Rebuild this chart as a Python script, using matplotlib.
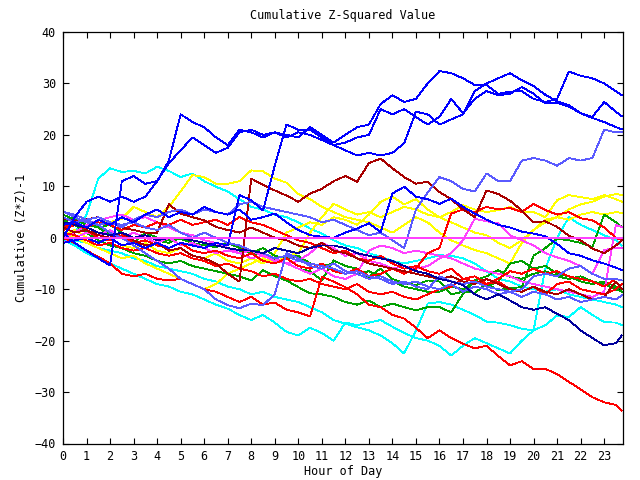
import matplotlib
matplotlib.use('Agg')
import matplotlib.pyplot as plt

plt.rcParams['font.family'] = ['DejaVu Sans Mono']

title = 'Cumulative Z-Squared Value'
xlabel = 'Hour of Day'
ylabel = 'Cumulative (Z*Z)-1'

hours = [0.0, 0.5, 1.0, 1.5, 2.0, 2.5, 3.0, 3.5, 4.0, 4.5,
         5.0, 5.5, 6.0, 6.5, 7.0, 7.5, 8.0, 8.5, 9.0, 9.5,
         10.0, 10.5, 11.0, 11.5, 12.0, 12.5, 13.0, 13.5, 14.0, 14.5,
         15.0, 15.5, 16.0, 16.5, 17.0, 17.5, 18.0, 18.5, 19.0, 19.5,
         20.0, 20.5, 21.0, 21.5, 22.0, 22.5, 23.0, 23.5, 23.75]

x_ticks = list(range(0, 24))
y_ticks = [-40, -30, -20, -10, 0, 10, 20, 30, 40]

# ---- series values (one per half hour) ----
blue_1 = [0, 4, 7, 8, 7, 8, 7, 8, 11, 15,
          24, 22.5, 21.5, 19.5, 18, 21, 20.5, 19.5, 20.5, 20,
          19.5, 21.5, 20, 18.5, 20, 21.5, 22, 26, 27.7, 26.4,
          27, 30, 32.4, 32, 31, 29.7, 29.7, 28, 28.4, 28.5,
          27, 26.4, 27, 32.3, 31.5, 31, 30, 28.5, 27.7]
blue_2 = [1, -1, -2.5, -4, -5.4, 11, 12, 10.5, 11, 14.5,
          17, 19.5, 18, 16.5, 17.5, 20.5, 21, 20, 20.5, 19.5,
          20.5, 20, 19, 18, 18.5, 19.5, 20, 25, 24, 25,
          23.5, 22, 23.5, 27, 24.2, 27, 28.5, 27.7, 28, 29.3,
          28, 26.1, 26.2, 25.5, 24.2, 23.5, 26.4, 24.5, 23.6]
blue_3 = [-1, -0.5, 0, -1, 0, -1.5, -1, -2, -1, -2,
          -1, -1.5, -2, -1, -1.5, 8.3, 7.3, 5.3, 14, 22,
          21, 21, 19.5, 18, 17, 16, 16.5, 16, 16.5, 18.4,
          24.5, 24, 22, 23, 24, 28.5, 30, 31, 32, 30.6,
          29.5, 27.8, 26.5, 25.8, 24.2, 23.3, 22.5, 21.5, 21.1]
blue_4 = [2.5, 3, 2, 3.5, 2.5, 4, 3, 4.5, 5.5, 4,
          5, 4.5, 6, 5, 4.5, 5.5, 3.5, 4, 4.7, 3,
          1.5, 0.5, 0.2, 0, 1, 1.8, 2.8, 1.1, 8.6, 9.9,
          8, 7.5, 6.6, 7.6, 6, 4.7, 3.5, 2.5, 2, 1.2,
          0.8, 0.3, -1.2, -3, -3.5, -4.4, -5, -5.8, -6.3]
navy_1 = [3, 2.5, 2, 1, 0.5, 1, 0, 0.5, -0.5, 0,
          0, -0.5, -1, -1.5, -2, -2.4, -2.5, -3, -2, -2.5,
          -3, -2, -1.5, -1.5, -2, -3, -3.5, -4, -4.5, -5.5,
          -6.5, -7, -8, -8.5, -9.2, -11, -12, -11, -12.2, -13.5,
          -14, -13.5, -14.8, -16, -18, -19.5, -20.9, -20.5, -19]
pblue_1 = [4, 3, 3.5, 2.5, 3, 2, 3.5, 4.5, 4, 5,
           5.5, 4.5, 5.5, 5, 4.5, 6.5, 7, 6, 5.5, 5,
           4.5, 4, 3, 3.5, 2.5, 1.5, 0.5, 1, -0.5, -2,
           5.5, 8.8, 11.8, 11, 9.5, 9, 12.5, 11, 11, 15,
           15.5, 15, 14, 15.5, 15, 15.5, 21, 20.5, 20.6]
pblue_2 = [5, 4.5, 3.5, 4, 3, 2.5, 3, 2, 1.5, 2.5,
           1, 0, 1, 0, -1, -1.5, -2.5, -3, -4, -3.5,
           -4.5, -5, -5.5, -6, -7, -6.5, -7.5, -8, -9, -8.5,
           -9.5, -10, -7.5, -8.5, -9, -8.5, -9.5, -10, -10.5, -10,
           -7.5, -7, -7.5, -6, -5.5, -7, -8, -8, -8.3]
pblue_3 = [5.2, 4, 3, 2.5, 1, 0, -1.5, -3, -4.5, -6,
           -8, -9, -10, -12, -13.1, -13.7, -12.8, -13.1, -11, -3,
           -4, -5.5, -6, -5, -6.5, -7, -8, -7.5, -8.5, -9,
           -8.5, -9.5, -10, -9, -10.5, -9.5, -10, -11, -10.5, -11.5,
           -10.5, -11, -12, -11.5, -12.5, -12, -11.5, -12, -11.2]
cyan_1 = [0, 1, 4.5, 11.5, 13.5, 12.8, 13, 12.5, 13.8, 13,
          11.8, 12.5, 11, 9.9, 9, 7.5, 6, 5.5, 4.5, 4,
          3, 1.8, 0.8, -0.5, -1.5, -2, -3, -3.7, -4.5, -5,
          -4.5, -4, -3.4, -3.5, -4, -5, -6.5, -8, -8.5, -9.5,
          -10, -10.5, -10, -11, -11.5, -12, -12.5, -13, -13.5]
cyan_2 = [-0.5, -1.5, -3, -4, -5, -6, -7, -8, -9, -9.5,
          -10.5, -11, -12, -13, -13.8, -15, -16, -15, -16.5, -18.3,
          -19, -17.5, -18.5, -20, -16.5, -17, -16.5, -16, -17.3, -18.5,
          -19.5, -20, -21, -22.9, -21, -19.5, -20.5, -21.5, -22.5, -20,
          -18, -6, 0, 4, 2.5, 1.5, 0.5, -0.5, -1.5]
cyan_3 = [0.5, -0.5, -1, -2, -2.5, -3, -4, -4.5, -5.5, -6,
          -6.5, -7, -8, -8.5, -9.5, -10, -11, -10.5, -11.5, -12,
          -12.5, -13.5, -14.5, -16, -16.7, -17.4, -18, -19, -20.5, -22.5,
          -18, -12.8, -12.5, -13, -14, -15, -16.3, -16.5, -17, -17.7,
          -18, -17, -15.1, -15.4, -13.5, -15, -16.4, -16.5, -17]
yellow_1 = [2, 3, 2, 3.5, 3, 3.7, 6, 5, 4, 6,
            9, 12.2, 11.8, 10.5, 10.5, 11, 13.1, 12.9, 11.5, 10.7,
            8.5, 7.5, 6, 5, 4, 3.5, 3, 2, 1, 2.5,
            4, 3, 1, -0.5, -1.5, -2.4, -3, -4, -5, -1,
            1.5, 3, 4, 3.5, 4.5, 5, 4.5, 5, 4.8]
yellow_2 = [1, 0, -1, -2, -3, -4, -3.5, -5, -6, -7,
            -8, -9, -10, -9, -7, -6, -5, -4, -5, -3.5,
            -3, 1, 4, 6.6, 5.5, 4.5, 5, 4, 5, 6,
            5.5, 4.5, 4, 5, 6.3, 5.5, 5, 5.35, 6, 5,
            5, 4, 7.3, 8.3, 7.9, 7.5, 8.3, 7.5, 7]
yellow_3 = [0.5, 1.5, 0, -1, 0, -1.5, -2, -1, -2.5, -3,
            -2, -3.5, -4, -3, -4.5, -5, -4, -5, -3, 1,
            2, 3, 2.5, 4, 3.5, 2.5, 4.5, 7, 8, 6.5,
            7.5, 5.5, 4, 3, 2, 1, 0.5, -1, -2, -0.5,
            1.5, 3.5, 4, 5.5, 6.5, 7, 8, 8.5, 8.3]
red_1 = [0, -1, -2.5, -3.7, -5, -7, -7.5, -7, -8, -8.3,
         -8, -9, -10, -10.5, -11.5, -12.5, -11.5, -13, -12.6, -14,
         -14.5, -15.3, -7.6, -8.5, -9.6, -11, -13, -13.5, -15, -15.7,
         -17.5, -19.5, -18, -19.5, -20.6, -21.5, -21, -23, -24.8, -24,
         -25.5, -25.5, -26.5, -28, -29.5, -31, -32, -32.5, -33.6]
red_2 = [1, 0.5, -0.5, -1.5, -1, -2, -2.5, -2, -3, -3.5,
         -3, -4, -4.5, -5.5, -5, -6, -6.5, -7.5, -7, -8,
         -8.5, -8, -9, -9.5, -10, -9, -10.5, -11, -10.5, -11.5,
         -12, -11, -10, -9.5, -8, -8.5, -9, -8, -6.5, -7,
         -6, -7, -6.5, -7.5, -8, -8.5, -9.5, -8, -8.3]
red_3 = [2, 3, 1.5, 0, -0.5, 0.5, -1, -0.5, -1.5, -2,
         -1, -2.5, -3, -2.5, -3.5, -4, -3, -4.5, -5, -4,
         -5.5, -6, -5, -6.5, -7, -6, -7.5, -7, -6, -7,
         -6, -3, -2, 4.7, 5.5, 5, 6, 5.5, 5.8, 5,
         6.6, 5.4, 4.5, 5, 3.8, 3.4, 2, 0, -0.5]
red_4 = [1.5, 2.5, 2, 3, 2.5, 1.5, 2.5, 2, 3, 2.5,
         3.5, 2.5, 3, 3.5, 2.5, 4, 3, 2.5, 1.5, 0.5,
         -0.5, -1, -2, -3, -2.5, -4, -4.5, -3.5, -5, -6,
         -5.5, -6.5, -7, -6, -8, -7.5, -9, -8.5, -10, -10.5,
         -9.5, -11, -9, -8.5, -10, -10.5, -11, -10, -9]
dred_1 = [2, 1, 1.5, 0.5, 0, 1, -0.5, -1.5, -1, -2.5,
          -2, -3.5, -4, -5, -7, -8.5, 11.5, 10.3, 9.2, 8.2,
          7, 8.6, 9.5, 11, 12, 10.9, 14.5, 15.4, 13.5, 11.8,
          10.5, 10.9, 8.9, 7.5, 5.5, 4, 9.2, 8.5, 7.2, 5.3,
          3, 3.2, 2.1, 0.4, -0.5, -2.1, -3, -1.5, -0.5]
dred_2 = [3.7, 3.3, 3.6, 4, 3, 2, 1.5, 1, 1, 6.5,
          4.7, 4, 3.4, 2.1, 1.5, 1, 2, 1, 0, -0.5,
          -1.5, -2, -1, -2.5, -3, -4, -5, -5.5, -6, -6.5,
          -7, -7.5, -8, -7.5, -8.5, -9, -8, -9, -10, -10.5,
          -9.5, -10.5, -11, -10, -11, -12, -11.5, -8.5, -9.9]
green_1 = [3, 4, 3, 2, 2.5, 1, 0, 0.5, -0.5, -1,
           0, -1, -1.5, -1, -2, -2.5, -2.8, -3.5, -4.4, -5,
           -6, -6.5, -8.3, -4.4, -5.5, -6, -7.6, -6, -8, -8.8,
           -9.2, -8.3, -8.5, -11, -10.5, -10.7, -9, -10.2, -9.8, -9.6,
           -3.5, -2, -0.2, -0.5, -1, -1.8, 4.5, 3, 2.1]
green_2 = [1.5, 2.5, 1, -0.5, -1.5, -2, -3, -3.5, -4.5, -5,
           -4.5, -5.5, -6, -6.5, -7, -7.5, -8.3, -6.3, -7.5, -8.3,
           -9.6, -10.8, -11, -11.5, -12.5, -13, -12.2, -13.5, -12.8, -13.5,
           -14.1, -13.5, -13.5, -14.5, -10.9, -8.3, -7.5, -6.3, -7.6, -8,
           -7, -6.5, -7.5, -8, -7.5, -8.5, -9, -10, -10.5]
green_3 = [4.5, 3.5, 2.5, 2, 0.5, 0, -1, 1, 0, -0.5,
           -0.2, -1, -1.5, -1.8, -1, -2, -3, -2, -3.5, -4,
           -3.5, -5, -5.5, -5, -6.5, -7, -6.5, -7.5, -8.5, -9.5,
           -10, -10.5, -10.5, -9.5, -10, -8.5, -9.5, -8.5, -5, -4.5,
           -6, -5.5, -7, -7.5, -8.5, -9, -8.5, -9.5, -10]
magenta_1 = [0, 1, 2.5, 3.4, 4, 4.5, 3.5, 4, 3, 2,
             1, 0.5, -0.5, -1, -2, -3, -2.5, -3.5, -4, -5,
             -4.5, -3, -1, -2, -3.5, -3, -4.5, -5, -6, -5.5,
             -6, -5.5, -4, -3, -0.5, 3.7, 3.2, 2.8, 0.5, -0.5,
             -1.5, -3, -3.8, -4.5, -5.5, -7, -2.4, -2, -2]
magenta_2 = [-1, 0, 1, 0.5, 1.5, 0, 1, 0, -1, 0,
             -1.5, -1, -2, -3, -2.5, -3, -4, -3.5, -4.5, -5,
             -6, -7, -6, -7.5, -8, -7, -2.5, -1.5, -2, -3,
             -2.5, -3, -3.5, -4, -5, -6, -6.5, -7, -7.5, -8.5,
             -9, -9.5, -10, -10.5, -11, -11.5, -10.5, 2.5, 2.1]
magenta_flat = [0, 0, 0, 0, 0, 0, 0, 0, 0, 0,
                0, 0, 0, 0, 0, 0, 0, 0, 0, 0,
                0, 0, 0, 0, 0, 0, 0, 0, 0, 0,
                0, 0, 0, 0, 0, 0, 0, 0, 0, 0,
                0, 0, 0, 0, 0, 0, 0, 0, 0]

BLUE = '#0000ff'
NAVY = '#00009c'
PBLUE = '#5a5aff'
CYAN = '#00ffff'
YELLOW = '#ffff00'
RED = '#ff0000'
DRED = '#a80000'
GREEN = '#00a000'
MAGENTA = '#ff40ff'

plot_order = [
    (cyan_1, CYAN), (cyan_2, CYAN), (cyan_3, CYAN),
    (yellow_1, YELLOW), (yellow_2, YELLOW), (yellow_3, YELLOW),
    (green_1, GREEN), (green_2, GREEN), (green_3, GREEN),
    (magenta_1, MAGENTA), (magenta_2, MAGENTA),
    (red_1, RED), (red_2, RED), (red_3, RED), (red_4, RED),
    (dred_1, DRED), (dred_2, DRED),
    (pblue_1, PBLUE), (pblue_2, PBLUE), (pblue_3, PBLUE),
    (navy_1, NAVY),
    (blue_4, BLUE), (blue_3, BLUE), (blue_2, BLUE), (blue_1, BLUE),
]

W, H = 640, 480
L, R, T, B = 63, 622.5, 32, 443.5
fig = plt.figure(figsize=(W / 100, H / 100), dpi=100)
ax = fig.add_axes([L / W, 1 - B / H, (R - L) / W, (B - T) / H])

for vals, col in plot_order:
    ax.plot(hours, vals, color=col, lw=0.6, antialiased=False)
ax.plot(hours, magenta_flat, color=MAGENTA, lw=1.2, antialiased=False)

ax.set_xlim(0, 23.78)
ax.set_ylim(-40, 40)
ax.set_xticks(x_ticks)
ax.set_yticks(y_ticks)
ax.tick_params(direction='in', top=True, right=True, length=4, width=0.8,
               labelsize=8.5, pad=5, colors='black')
for s in ax.spines.values():
    s.set_linewidth(0.9)

fig.text((L + R) / 2 / W, 1 - 16 / H, title, ha='center', va='center', fontsize=8.5)
fig.text((L + R) / 2 / W, 1 - 471 / H, xlabel, ha='center', va='center', fontsize=8.5)
fig.text(22 / W, 1 - 238 / H, ylabel, ha='center', va='center', rotation=90, fontsize=8.5)

fig.savefig('out.png', dpi=100)
